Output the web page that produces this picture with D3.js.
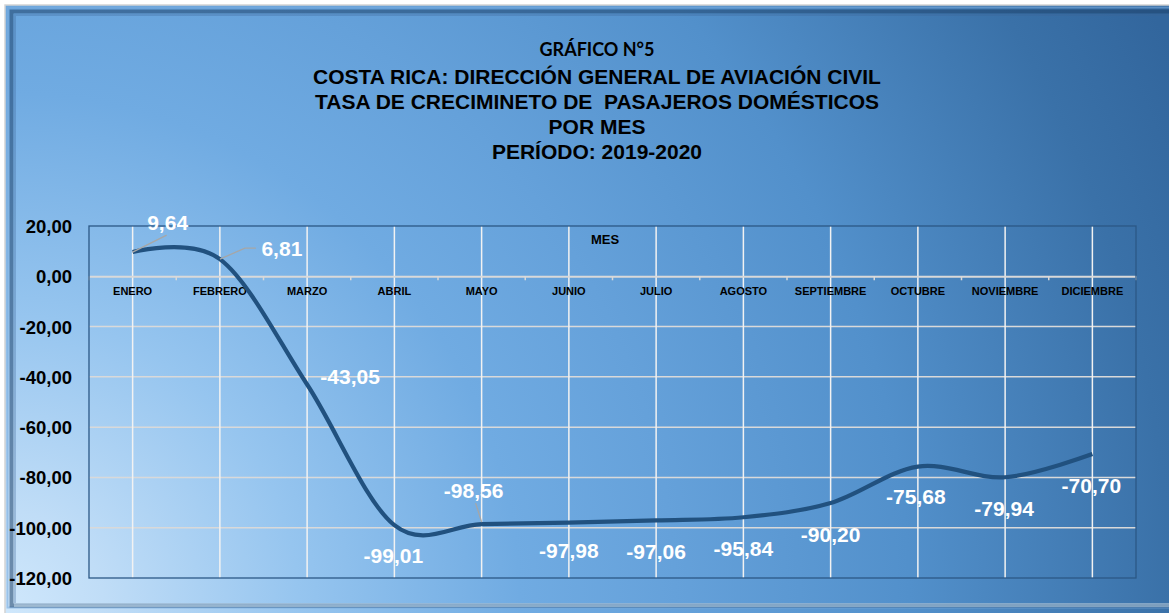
<!DOCTYPE html>
<html><head><meta charset="utf-8">
<script src="https://cdn.jsdelivr.net/npm/d3@7"></script>
<style>html,body{margin:0;padding:0;background:#fff;}svg{display:block;}</style>
</head><body>
<svg id="c" width="1169" height="613"></svg>
<script>
const months = ["ENERO","FEBRERO","MARZO","ABRIL","MAYO","JUNIO","JULIO","AGOSTO","SEPTIEMBRE","OCTUBRE","NOVIEMBRE","DICIEMBRE"];
const growth = [9.64, 6.81, -43.05, -99.01, -98.56, -97.98, -97.06, -95.84, -90.20, -75.68, -79.94, -70.70];
const yTicks = [20, 0, -20, -40, -60, -80, -100, -120];
const titleLines = ["GRÁFICO N°5","COSTA RICA: DIRECCIÓN GENERAL DE AVIACIÓN CIVIL","TASA DE CRECIMINETO DE  PASAJEROS DOMÉSTICOS","POR MES","PERÍODO: 2019-2020"];
const axisTitle = "MES";
// label placement offsets (layout only)
const labelOffsets = [[35,-30],[62,-11],[43,-8],[-1,30],[-8,-34],[0,28],[0,31],[0,31],[0,31],[-2,30],[-1,31],[-1,31]];

const loc = d3.formatLocale({decimal:",", thousands:".", grouping:[3], currency:["",""], minus:"-"});
const fmt = loc.format(".2f");

const svg = d3.select("#c");
const W = 1169, H = 613;
const defs = svg.append("defs");
const rg = defs.append("radialGradient").attr("id","bg").attr("gradientUnits","userSpaceOnUse")
  .attr("cx",0).attr("cy",613).attr("r",1300);
[[0,"#d0e8fc"],[0.08,"#c0ddf7"],[0.23,"#96c5ef"],[0.4,"#70abe2"],[0.52,"#65a1da"],[0.7,"#5290cb"],[0.9,"#3a71a8"],[1,"#32669d"]]
  .forEach(([o,c])=>rg.append("stop").attr("offset",o).attr("stop-color",c));

svg.append("rect").attr("width",W).attr("height",H).attr("fill","#fff");
svg.append("rect").attr("x",5).attr("y",5).attr("width",W).attr("height",H).attr("fill","url(#bg)").attr("stroke","#d4d4d4").attr("stroke-width",1.5);
// bevel frame
svg.append("rect").attr("x",7.5).attr("y",7.5).attr("width",W).attr("height",H-13).attr("fill","none").attr("stroke","rgba(120,170,220,0.6)").attr("stroke-width",2);
svg.append("rect").attr("x",11.5).attr("y",11.5).attr("width",W).attr("height",H-19).attr("fill","none").attr("stroke","rgba(30,65,105,0.55)").attr("stroke-width",4);
svg.append("rect").attr("x",15).attr("y",15).attr("width",W).attr("height",H-24).attr("fill","none").attr("stroke","rgba(60,100,150,0.3)").attr("stroke-width",2);
// bottom light strip
svg.append("rect").attr("x",14).attr("y",603).attr("width",W).attr("height",4).attr("fill","rgba(225,245,255,0.45)");

// titles
const ty = [50, 77, 102, 127, 152];
titleLines.forEach((t,i)=>{
  svg.append("text").attr("x",597).attr("y",ty[i]+(i===0?6:7)).attr("text-anchor","middle")
    .attr("font-family", i===0 ? "Lato, 'Open Sans', sans-serif" : "'Liberation Sans', Arial, sans-serif")
    .attr("font-weight","bold").attr("font-size", i===0 ? 18 : 21)
    .attr("fill","#000").style("white-space","pre").text(t);
});

const L = 89, R = 1136, T = 226, B = 578;
const x = d3.scaleBand().domain(months).range([L,R]);
const y = d3.scaleLinear().domain([-120,20]).range([B,T]);
const cx = m => x(m) + x.bandwidth()/2;

const g = svg.append("g");
// horizontal grid
g.selectAll("line.h").data(yTicks.filter(v=>v!==0 && v!==20 && v!==-120)).join("line")
  .attr("x1",L).attr("x2",R).attr("y1",d=>y(d)).attr("y2",d=>y(d))
  .attr("stroke","#d9d9d9").attr("stroke-width",1.5);
// vertical grid
g.selectAll("line.v").data(months).join("line")
  .attr("x1",d=>cx(d)).attr("x2",d=>cx(d)).attr("y1",T).attr("y2",B)
  .attr("stroke","#f2f2f2").attr("stroke-width",1.5);
// zero axis
const xAxis = d3.axisBottom(x).tickSize(0).tickFormat("");
const ax = svg.append("g").attr("transform",`translate(0,${y(0)})`).call(xAxis);
ax.select(".domain").attr("stroke","#d9d9d9").attr("stroke-width",2);
const bounds = d3.range(months.length+1).map(i=>L + i*x.bandwidth());
svg.selectAll("line.tk").data(bounds).join("line")
  .attr("x1",d=>d).attr("x2",d=>d).attr("y1",y(0)).attr("y2",y(0)+4)
  .attr("stroke","#d9d9d9").attr("stroke-width",1.5);
svg.selectAll("text.xl").data(months).join("text")
  .attr("x",d=>cx(d)).attr("y",y(0)+19).attr("text-anchor","middle")
  .attr("font-family","'Liberation Sans', Arial, sans-serif").attr("font-weight","bold").attr("font-size",11)
  .attr("fill","#000").text(d=>d);
// plot border
svg.append("rect").attr("x",L).attr("y",T).attr("width",R-L).attr("height",B-T)
  .attr("fill","none").attr("stroke","#2b5886").attr("stroke-width",1.3);
// y axis labels
const yAxis = d3.axisLeft(y).tickValues(yTicks).tickSize(0).tickPadding(17).tickFormat(fmt);
const ya = svg.append("g").attr("transform",`translate(${L},0)`).call(yAxis);
ya.select(".domain").remove();
ya.selectAll("text").attr("font-family","'Liberation Sans', Arial, sans-serif").attr("font-weight","bold")
  .attr("font-size",18.5).attr("fill","#000").attr("dy","0.35em");
// axis title
svg.append("text").attr("x",605).attr("y",244).attr("text-anchor","middle")
  .attr("font-family","'Liberation Sans', Arial, sans-serif").attr("font-weight","bold").attr("font-size",13)
  .attr("fill","#000").text(axisTitle);

// line
const pts = months.map((m,i)=>[cx(m), y(growth[i])]);
svg.append("path").attr("d", d3.line().curve(d3.curveCardinal.tension(0))(pts))
  .attr("fill","none").attr("stroke","#21517f").attr("stroke-width",4.2).attr("stroke-linecap","butt");

// leader lines
const leaders = [[0,[[0,0],[34,-17]]],[1,[[0,0],[25,-11],[36,-11]]],[4,[[0,-2],[-6,-21]]]];
leaders.forEach(([i,ps])=>{
  svg.append("path").attr("d", d3.line()(ps.map(p=>[pts[i][0]+p[0], pts[i][1]+p[1]])))
    .attr("fill","none").attr("stroke","#a6a6a6").attr("stroke-width",1.3);
});
// labels
svg.selectAll("text.dl").data(growth).join("text")
  .attr("x",(d,i)=>pts[i][0]+labelOffsets[i][0]).attr("y",(d,i)=>pts[i][1]+labelOffsets[i][1]+7.5)
  .attr("text-anchor","middle")
  .attr("font-family","'Liberation Sans', Arial, sans-serif").attr("font-weight","bold").attr("font-size",21)
  .attr("fill","#fff").text(d=>fmt(d));
</script>
</body></html>
